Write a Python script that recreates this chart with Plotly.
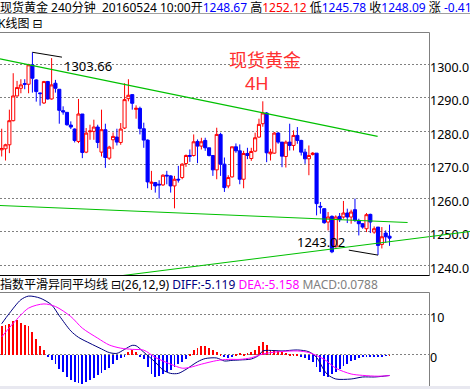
import plotly.graph_objects as go

W, H = 470, 389

# ---------------- data ----------------
idx = list(range(102))
opens = [1274.5, 1274.8, 1276.0, 1283.2, 1290.6, 1292.9, 1294.3, 1294.1, 1299.9, 1295.4,
         1291.5, 1288.5, 1294.9, 1289.7, 1294.4, 1292.6, 1286.2, 1285.7, 1281.9, 1280.7,
         1277.0, 1285.2, 1273.8, 1279.9, 1280.0, 1281.3, 1273.8, 1280.5, 1272.0, 1277.5,
         1278.3, 1276.7, 1281.0, 1289.8, 1291.0, 1286.6, 1286.9, 1280.8, 1277.4, 1264.5,
         1264.7, 1264.2, 1264.0, 1266.9, 1266.7, 1263.7, 1265.7, 1266.2, 1270.4, 1272.8,
         1272.8, 1277.0, 1275.6, 1277.3, 1275.1, 1272.8, 1268.5, 1279.1, 1270.2, 1263.7,
         1266.4, 1275.4, 1274.2, 1265.7, 1273.4, 1271.9, 1274.1, 1278.3, 1282.3, 1285.5,
         1273.3, 1273.5, 1279.5, 1276.8, 1272.5, 1276.8, 1275.8, 1278.8, 1277.3, 1273.8,
         1271.8, 1273.1, 1273.5, 1257.6, 1256.9, 1252.9, 1254.6, 1245.5, 1254.6, 1254.4,
         1255.6, 1254.4, 1256.6, 1253.4, 1252.4, 1250.9, 1255.2, 1249.9, 1251.4, 1246.2,
         1249.6, 1248.67]
highs = [1280.8, 1276.3, 1286.5, 1297.4, 1295.1, 1295.6, 1295.6, 1300.2, 1303.66, 1295.6,
         1291.6, 1295.1, 1295.1, 1301.9, 1295.4, 1292.6, 1287.5, 1285.7, 1283.0, 1280.9,
         1289.7, 1285.2, 1281.0, 1282.0, 1283.5, 1282.0, 1286.5, 1282.3, 1275.7, 1279.7,
         1280.8, 1282.5, 1294.4, 1295.6, 1291.0, 1287.8, 1287.4, 1282.6, 1277.6, 1268.2,
         1264.9, 1265.4, 1267.2, 1268.2, 1266.9, 1266.7, 1269.7, 1270.5, 1273.1, 1274.6,
         1279.1, 1277.6, 1278.1, 1278.1, 1275.1, 1272.8, 1281.1, 1279.6, 1272.2, 1266.9,
         1275.4, 1276.4, 1276.1, 1274.2, 1275.1, 1275.1, 1279.6, 1283.8, 1289.0, 1285.8,
         1274.8, 1279.8, 1279.8, 1276.8, 1277.3, 1282.3, 1280.3, 1281.3, 1277.5, 1274.8,
         1275.8, 1273.8, 1273.5, 1258.9, 1256.9, 1255.9, 1254.9, 1254.9, 1255.6, 1259.2,
         1256.9, 1256.6, 1259.9, 1253.9, 1252.6, 1255.6, 1255.4, 1251.6, 1251.4, 1251.4,
         1250.4, 1252.12]
lows = [1272.5, 1271.3, 1273.5, 1283.0, 1290.4, 1291.4, 1292.6, 1291.4, 1291.6, 1288.9,
        1287.7, 1288.2, 1289.5, 1289.5, 1291.6, 1282.3, 1285.0, 1281.7, 1280.7, 1276.7,
        1276.5, 1272.0, 1273.5, 1277.5, 1277.5, 1275.0, 1272.5, 1269.1, 1271.5, 1274.7,
        1275.8, 1276.0, 1280.7, 1289.0, 1286.5, 1283.8, 1279.1, 1275.1, 1263.0, 1262.5,
        1261.7, 1259.9, 1263.7, 1264.2, 1261.7, 1257.0, 1264.7, 1265.7, 1269.4, 1270.9,
        1272.5, 1270.5, 1274.6, 1274.2, 1272.5, 1266.7, 1265.7, 1266.7, 1261.9, 1263.0,
        1266.2, 1273.6, 1264.2, 1263.0, 1271.7, 1271.2, 1273.8, 1278.1, 1281.4, 1270.8,
        1271.3, 1273.3, 1276.3, 1269.3, 1269.2, 1274.3, 1274.3, 1276.3, 1272.8, 1270.3,
        1266.9, 1272.8, 1254.9, 1255.4, 1252.4, 1250.4, 1243.6, 1245.3, 1252.9, 1253.9,
        1252.6, 1252.4, 1252.9, 1248.9, 1250.9, 1249.9, 1249.6, 1249.4, 1243.02, 1245.0,
        1246.7, 1245.78]
closes = [1274.9, 1276.0, 1283.2, 1290.6, 1293.1, 1293.9, 1294.1, 1299.9, 1295.9, 1291.9,
          1291.3, 1294.9, 1289.7, 1293.9, 1292.9, 1286.3, 1285.8, 1282.0, 1281.3, 1277.3,
          1285.2, 1273.7, 1279.5, 1280.1, 1281.3, 1276.7, 1280.5, 1272.2, 1275.3, 1278.5,
          1276.8, 1280.7, 1289.5, 1290.8, 1288.4, 1286.9, 1280.9, 1277.4, 1264.9, 1264.8,
          1263.7, 1264.0, 1266.9, 1266.7, 1263.7, 1265.7, 1265.5, 1270.2, 1272.8, 1272.6,
          1276.9, 1275.6, 1276.9, 1275.1, 1272.8, 1268.5, 1279.1, 1270.2, 1263.2, 1266.2,
          1275.4, 1274.2, 1265.7, 1273.4, 1272.8, 1274.0, 1278.1, 1282.1, 1285.5, 1273.6,
          1273.8, 1279.5, 1276.8, 1272.6, 1276.8, 1275.8, 1278.8, 1277.3, 1273.8, 1271.8,
          1272.8, 1273.5, 1258.4, 1257.4, 1252.7, 1254.4, 1244.0, 1254.4, 1253.6, 1255.6,
          1254.4, 1255.9, 1253.4, 1252.4, 1251.4, 1255.1, 1252.9, 1250.9, 1245.9, 1248.5,
          1248.5, 1248.09]

price_ticks = [1240, 1250, 1260, 1270, 1280, 1290, 1300]
macd_ticks = [0, 10]

macd_hist = [7.25, 7.5, 7.9, 8.6, 8.75, 8.2, 7.5, 7.25, 5.8, 4.2, 2.25, 1.4,
             -0.25, -1.1, -2.1, -3.3, -4.2, -5.4, -6.1, -6.7, -6.9, -7.1, -6.7, -6.1,
             -5.6, -5.0, -4.4, -3.75, -3.1, -2.1, -1.1, -0.7, -0.25,
             0.8, 1.25, 0.8,
             -0.25, -0.8, -2.9, -4.6, -5.4, -5.25, -4.6, -4.2, -3.6, -2.9, -2.1, -1.7, -0.8,
             0.4, 1.25, 1.9, 2.25, 2.25, 1.9, 1.25, 0.8, 0.25,
             -0.25, -0.6, -0.3,
             0.4, 0.5, 0.3, 0.6, 0.9, 1.4, 2.25, 3.3, 2.5, 1.25, 1.25, 1.1, 0.8, 0.6, 0.4,
             0.25, 0.2,
             -0.25, -0.6, -1.1, -1.7, -2.9, -4.2, -5.25, -5.4, -4.75, -4.2, -3.3, -2.75,
             -2.1, -1.4, -1.1, -0.6, -0.4, -0.25, -0.25, -0.25, -0.25, -0.15, -0.1,
             0.0788]

diff_x = [0, 2, 5, 7, 10, 13, 15, 18, 20, 23, 26, 28, 30, 32, 34, 35, 37, 40, 42, 44,
          46, 48, 51, 53, 56, 58, 60, 62, 65, 67, 68, 71, 73, 77, 80, 82, 84, 85, 87, 91,
          94, 97, 99, 101]
diff_y = [7.8, 10.4, 13.8, 14.7, 14.2, 12.5, 9.8, 6.0, 4.4, 2.9, 1.5, 0.6, 0.4, 1.4,
          2.4, 2.3, 0.7, -1.8, -3.75, -4.6, -4.6, -3.6, -1.7, -0.9, -0.75, -1.5, -1.35,
          -1.25, -1.0, -0.1, 1.0, 1.1, 1.0, 1.25, 0.8, -0.6, -3.9, -5.0, -6.0, -6.0,
          -5.5, -5.5, -5.35, -5.119]
dea_x = [0, 3, 7, 11, 14, 18, 21, 25, 28, 31, 34, 37, 40, 44, 47, 49, 52, 56, 59, 62,
         65, 68, 72, 77, 80, 84, 87, 91, 94, 98, 101]
dea_y = [4.5, 7.9, 11.7, 12.75, 12.1, 9.6, 6.7, 4.2, 2.5, 1.7, 1.4, 1.2, -0.6, -2.3,
         -3.3, -3.1, -2.3, -1.4, -1.1, -1.1, -0.7, 0.25, 0.8, 1.0, 0.6, -1.1, -3.3,
         -4.75, -5.1, -5.3, -5.158]

# trend lines (candle index, price)
trend_upper_x = [-0.44, 97.9]
trend_upper_y = [1301.7, 1278.5]
trend_mid_x = [-0.44, 105.7]
trend_mid_y = [1257.85, 1252.77]
trend_low_x = [31.6, 121.95]
trend_low_y = [1236.92, 1250.07]

# high / low markers
hi_mark_x = [8, 15.7]
hi_mark_y = [1303.66, 1302.2]
lo_mark_x = [98, 90.4]
lo_mark_y = [1243.02, 1244.5]

XR = [-0.44, 111.28]
YR = [1236.92, 1309.57]
MR = [-7.75, 15.6]

FONT = "Noto Sans, Noto Sans CJK SC, DejaVu Sans"
RED = "#ff0000"
BLUE = "#0000ff"
GREEN = "#00c000"
GRID = "#808080"


def px(x):
    return x / W


def py(y):
    return 1 - y / H


def dx(v):
    return (v - XR[0]) / (XR[1] - XR[0])


def dy(v):
    return (v - YR[0]) / (YR[1] - YR[0])


fig = go.Figure()

fig.add_trace(go.Candlestick(
    x=idx, open=opens, high=highs, low=lows, close=closes,
    increasing=dict(line=dict(color=RED, width=1), fillcolor="#ffffff"),
    decreasing=dict(line=dict(color=BLUE, width=1), fillcolor=BLUE),
    whiskerwidth=0, hoverinfo="skip", xaxis="x", yaxis="y"))

for mx, my in ((hi_mark_x, hi_mark_y), (lo_mark_x, lo_mark_y)):
    fig.add_trace(go.Scatter(x=mx, y=my, mode="lines",
                             line=dict(color="#000000", width=1),
                             hoverinfo="skip", xaxis="x", yaxis="y"))

fig.add_trace(go.Bar(
    x=idx, y=macd_hist, width=0.22,
    marker=dict(color=[RED if v > 0 else BLUE for v in macd_hist], line=dict(width=0)),
    hoverinfo="skip", xaxis="x2", yaxis="y2"))
fig.add_trace(go.Scatter(x=diff_x, y=diff_y, mode="lines",
                         line=dict(color="#000080", width=1, shape="spline", smoothing=0.8),
                         hoverinfo="skip", xaxis="x2", yaxis="y2"))
fig.add_trace(go.Scatter(x=dea_x, y=dea_y, mode="lines",
                         line=dict(color="#ff00ff", width=1, shape="spline", smoothing=0.8),
                         hoverinfo="skip", xaxis="x2", yaxis="y2"))

shapes = []
for tx, ty in ((trend_upper_x, trend_upper_y), (trend_mid_x, trend_mid_y),
               (trend_low_x, trend_low_y)):
    shapes.append(dict(type="line", xref="x domain", yref="y domain",
                       x0=dx(tx[0]), y0=dy(ty[0]), x1=dx(tx[1]), y1=dy(ty[1]),
                       line=dict(color=GREEN, width=1.2), layer="above"))

# frame lines
shapes += [
    dict(type="line", xref="paper", yref="paper", x0=0, x1=1, y0=py(13.5), y1=py(13.5),
         line=dict(color="#a0a0a0", width=1)),
    dict(type="line", xref="paper", yref="paper", x0=0, x1=px(429.5), y0=py(32.5), y1=py(32.5),
         line=dict(color="#808080", width=1)),
    dict(type="line", xref="paper", yref="paper", x0=px(429.5), x1=px(429.5), y0=py(32.5), y1=py(275.5),
         line=dict(color="#808080", width=1)),
    dict(type="line", xref="paper", yref="paper", x0=0, x1=px(429.5), y0=py(275.5), y1=py(275.5),
         line=dict(color="#000000", width=1)),
    dict(type="line", xref="paper", yref="paper", x0=0, x1=px(429.5), y0=py(292.5), y1=py(292.5),
         line=dict(color="#808080", width=1)),
    dict(type="line", xref="paper", yref="paper", x0=px(429.5), x1=px(429.5), y0=py(292.5), y1=py(386),
         line=dict(color="#808080", width=1)),
    dict(type="rect", xref="paper", yref="paper", x0=0, x1=1, y0=0, y1=py(386),
         line=dict(width=0), fillcolor="#e8e8f0"),
]

header = ("现货黄金 240分钟  20160524 10:00开"
          f"<span style='color:{BLUE}'>1248.67</span> 高"
          f"<span style='color:{RED}'>1252.12</span> 低"
          f"<span style='color:{BLUE}'>1245.78</span> 收"
          f"<span style='color:{BLUE}'>1248.09</span> 涨 "
          f"<span style='color:{BLUE}'>-0.41</span>")
macd_head = ("指数平滑异同平均线 ⊟(26,12,9) "
             "<span style='color:#000080'>DIFF:-5.119</span> "
             "<span style='color:#ff00ff'>DEA:-5.158</span> "
             "<span style='color:#808080'>MACD:0.0788</span>")

annotations = [
    dict(xref="paper", yref="paper", x=px(-2), y=py(7.5), xanchor="left", yanchor="middle",
         text=header, showarrow=False, font=dict(family=FONT, size=12, color="#000000")),
    dict(xref="paper", yref="paper", x=px(-4), y=py(23), xanchor="left", yanchor="middle",
         text="K线图 ⊟", showarrow=False, font=dict(family=FONT, size=12, color="#000000")),
    dict(xref="paper", yref="paper", x=px(-2), y=py(284), xanchor="left", yanchor="middle",
         text=macd_head, showarrow=False, font=dict(family=FONT, size=12, color="#000000")),
    dict(xref="paper", yref="paper", x=px(265), y=py(60), xanchor="center", yanchor="middle",
         text="现货黄金", showarrow=False, font=dict(family=FONT, size=18, color="#ff3030")),
    dict(xref="paper", yref="paper", x=px(256.5), y=py(82.5), xanchor="center", yanchor="middle",
         text="4H", showarrow=False, font=dict(family=FONT, size=18, color="#ff3030")),
    dict(xref="x", yref="y", x=hi_mark_x[1], y=1299.5, xanchor="left", yanchor="middle",
         text="1303.66", showarrow=False, font=dict(family=FONT, size=13, color="#000000")),
    dict(xref="x", yref="y", x=lo_mark_x[1] - 0.4, y=1246.9, xanchor="right", yanchor="middle",
         text="1243.02", showarrow=False, font=dict(family=FONT, size=13, color="#000000")),
]

tickfont = dict(family=FONT, size=12.5, color="#000000")

fig.update_layout(
    width=W, height=H, margin=dict(l=0, r=0, t=0, b=0),
    paper_bgcolor="#ffffff", plot_bgcolor="#ffffff", showlegend=False,
    boxgap=0.1, boxgroupgap=0.1, bargap=0,
    xaxis=dict(domain=[0, 429 / W], range=XR, showgrid=False, showticklabels=False,
               zeroline=False, showline=False, ticks="", anchor="y",
               rangeslider=dict(visible=False), fixedrange=True),
    yaxis=dict(domain=[py(275.5), py(32.5)], range=YR, side="right", anchor="x",
               tickmode="array", tickvals=price_ticks,
               ticktext=[f"{v:.1f}" for v in price_ticks],
               showgrid=True, gridcolor=GRID, gridwidth=1, griddash="2px,2px",
               zeroline=False, showline=False, ticks="", tickfont=tickfont,
               ticklabelshift=3, fixedrange=True),
    xaxis2=dict(domain=[0, 429 / W], range=XR, showgrid=False, showticklabels=False,
                zeroline=False, showline=False, ticks="", anchor="y2", fixedrange=True),
    yaxis2=dict(domain=[py(386), py(292.5)], range=MR, side="right", anchor="x2",
                tickmode="array", tickvals=macd_ticks,
                ticktext=[str(v) for v in macd_ticks],
                showgrid=True, gridcolor=GRID, gridwidth=1, griddash="2px,2px",
                zeroline=False, showline=False, ticks="", tickfont=tickfont,
                ticklabelshift=3, fixedrange=True),
    shapes=shapes, annotations=annotations,
)

fig.write_html("out.html", config={"displayModeBar": False},
               post_script="document.body.style.margin='0';")
